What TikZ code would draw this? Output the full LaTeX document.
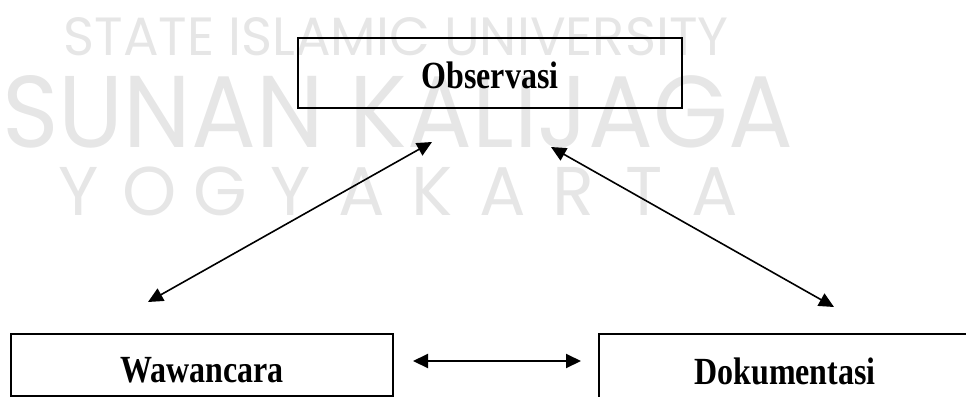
\documentclass[tikz,border=0pt]{standalone}
\usepackage{fontspec}
\setmainfont{Liberation Serif}
\newfontfamily\wmfont{Poppins}
\usetikzlibrary{arrows.meta}
\definecolor{wmgray}{RGB}{230,230,230}
\newcommand{\tall}[1]{\scalebox{1}[1.2]{#1}}
\begin{document}
\begin{tikzpicture}[x=0.5pt,y=-0.5pt,
  wm/.style={inner sep=0pt, text=wmgray, font=\wmfont},
  box/.style={draw, inner sep=0pt, line width=0.9pt,
    font=\fontsize{16pt}{19pt}\selectfont\bfseries, text depth=0pt},
  conn/.style={{Triangle[length=7.5pt,width=7pt]}-{Triangle[length=7.5pt,width=7pt]},
    line width=0.8pt}]
\useasboundingbox (0,0) rectangle (966,397);
\clip (0,0) rectangle (966,397);

% background lettering
\node[wm, anchor=base west] (wmA) at (63,55)
  {\resizebox{332.5pt}{19pt}{STATE ISLAMIC UNIVERSITY}};
\node[wm, anchor=base west] (wmB) at (2,147)
  {\resizebox{395.5pt}{36pt}{SUNAN KALIJAGA}};
\foreach \l [count=\i from 0] in {Y,O,G,Y,A,K,A,R,T,A}
  \node[wm, anchor=base, font=\wmfont\fontsize{34.5pt}{40pt}\selectfont]
    (yk\i) at ({79+70.6*\i},215) {\l};

% the three boxes
\node[box, line width=1.1pt, minimum width=192pt, minimum height=35pt,
      text height=15pt] (obs) at (490,73) {\tall{Observasi}};
\node[box, minimum width=191pt, minimum height=31pt,
      text height=17pt] (waw) at (202,365) {\tall{Wawancara}};
\node[box, minimum width=186pt, minimum height=45pt,
      text height=5pt] (dok) at (785,379) {\tall{Dokumentasi}};

% arrow end points
\coordinate (obsL) at (432,142);
\coordinate (wawT) at (148,302);
\coordinate (obsR) at (551,147);
\coordinate (dokT) at (834,307);
\coordinate (wawR) at (413,361);
\coordinate (dokL) at (581,361);

\draw[conn] (wawT) -- (obsL);
\draw[conn] (obsR) -- (dokT);
\draw[conn, line width=1pt] (wawR) -- (dokL);
\end{tikzpicture}
\end{document}
